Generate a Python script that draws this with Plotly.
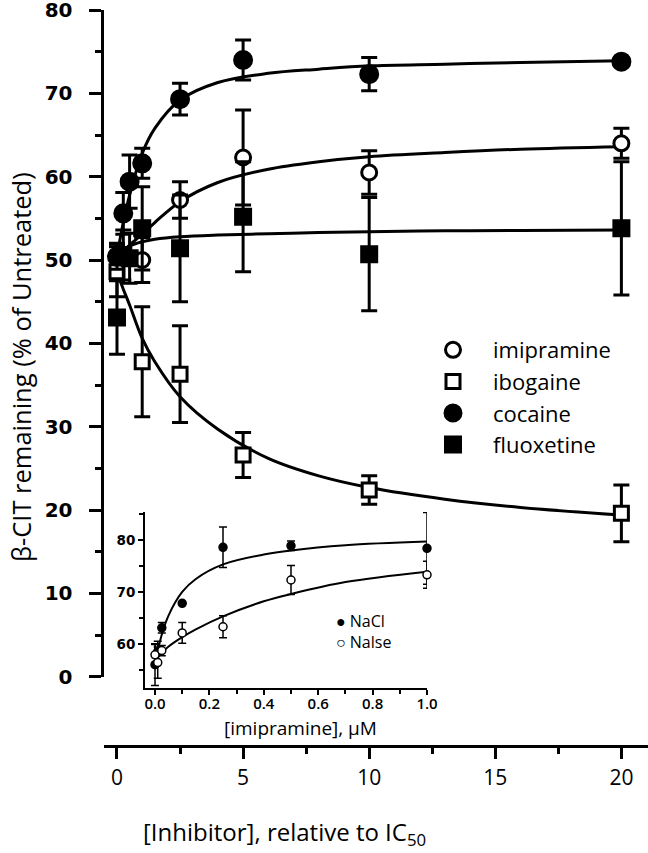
import plotly.graph_objects as go

W, H = 648, 853

# ---- main panel: measured points, x = [Inhibitor] relative to IC50 ----
conc = [0, 0.25, 0.5, 1, 2.5, 5, 10, 20]
imipramine = [50.5, None, None, 50.0, 57.2, 62.3, 60.5, 64.0]
imipramine_err = [1.5, 0, 0, 2.7, 2.2, 5.7, 2.6, 1.8]
ibogaine = [48.6, None, None, 37.8, 36.3, 26.6, 22.4, 19.6]
ibogaine_err = [3.0, 0, 0, 6.6, 5.8, 2.7, 1.7, 3.4]
cocaine = [50.4, 55.6, 59.4, 61.6, 69.3, 74.0, 72.3, 73.8]
cocaine_err = [1.5, 2.5, 3.2, 1.8, 1.9, 2.4, 2.0, 0.5]
fluoxetine = [43.1, 50.6, 50.2, 53.8, 51.4, 55.2, 50.7, 53.8]
fluoxetine_err = [4.4, 3.0, 3.0, 5.0, 6.4, 6.6, 6.8, 8.0]

# fitted curves
fit_x = [0, 0.25, 0.5, 1, 1.5, 2.5, 4, 6, 8, 10, 13, 16, 20]
imipramine_fit = [50.2, 51.0, 51.8, 53.1, 54.5, 57.0, 59.3, 60.9, 61.8, 62.4, 62.9, 63.3, 63.6]
ibogaine_fit = [48.5, 46.5, 44.6, 40.6, 37.8, 33.6, 29.7, 26.2, 24.1, 22.7, 21.3, 20.3, 19.4]
cocaine_fit = [50.5, 54.5, 57.8, 62.8, 65.8, 69.2, 71.3, 72.4, 72.9, 73.3, 73.5, 73.7, 73.9]
fluoxetine_fit = [50.3, 51.2, 51.7, 52.2, 52.5, 52.8, 53.0, 53.15, 53.3, 53.4, 53.5, 53.55, 53.6]

# ---- inset: [imipramine], uM ----
imi_um = [0, 0.01, 0.025, 0.1, 0.25, 0.5, 1.0]
nacl = [56.0, 58.5, 63.1, 67.8, 78.6, 78.9, 78.4]
nacl_err = [4.0, 2.0, 1.0, 0.0, 3.9, 0.9, 6.9]
nalse = [57.9, 56.4, 58.7, 62.1, 63.3, 72.3, 73.3]
nalse_err = [2.0, 3.0, 1.0, 2.0, 2.1, 2.8, 2.6]

inset_fit_x = [0, 0.01, 0.025, 0.05, 0.1, 0.15, 0.25, 0.4, 0.5, 0.7, 1.0]
nacl_fit = [55.5, 58.5, 61.8, 65.5, 70.0, 72.5, 75.3, 77.2, 78.0, 79.0, 79.7]
nalse_fit = [56.5, 57.3, 58.3, 59.5, 61.3, 62.8, 65.3, 68.2, 69.6, 71.9, 73.9]


def px(x):
    return x / W


def py(y):
    return 1 - y / H


fig = go.Figure()

for ys in [imipramine_fit, ibogaine_fit, cocaine_fit, fluoxetine_fit]:
    fig.add_trace(go.Scatter(x=fit_x, y=ys, mode="lines", line=dict(color="black", width=3, shape="spline"),
                             showlegend=False, hoverinfo="skip"))

series = [
    ("imipramine", imipramine, imipramine_err, "circle", "white", 15),
    ("ibogaine", ibogaine, ibogaine_err, "square", "white", 14),
    ("cocaine", cocaine, cocaine_err, "circle", "black", 17),
    ("fluoxetine", fluoxetine, fluoxetine_err, "square", "black", 15),
]
for name, ys, err, sym, fill, size in series:
    fig.add_trace(go.Scatter(
        x=conc, y=ys, mode="markers", name=name, legendgroup=name, cliponaxis=False,
        error_y=dict(type="data", array=err, color="black", thickness=3, width=8),
        marker=dict(symbol=sym, size=size, color=fill, line=dict(color="black", width=3)),
    ))

# inset
for ys in [nacl_fit, nalse_fit]:
    fig.add_trace(go.Scatter(x=inset_fit_x, y=ys, xaxis="x2", yaxis="y2", mode="lines",
                             line=dict(color="black", width=2, shape="spline"),
                             showlegend=False, hoverinfo="skip"))
for ys, err, fill in [(nacl, nacl_err, "black"), (nalse, nalse_err, "white")]:
    fig.add_trace(go.Scatter(
        x=imi_um, y=ys, xaxis="x2", yaxis="y2", mode="markers", showlegend=False, cliponaxis=False,
        error_y=dict(type="data", array=err, color="black", thickness=1.5, width=4),
        marker=dict(symbol="circle", size=8, color=fill, line=dict(color="black", width=1.5)),
    ))

axis_common = dict(showline=True, linecolor="black", showgrid=False, zeroline=False,
                   ticks="outside", tickcolor="black", automargin=False, ticklabeloverflow="allow")

fig.update_layout(
    width=W, height=H,
    margin=dict(l=0, r=0, t=0, b=0),
    paper_bgcolor="white", plot_bgcolor="rgba(0,0,0,0)",
    font=dict(family="Open Sans", color="black"),
    showlegend=True,
    legend=dict(x=px(413), y=py(329), xanchor="left", yanchor="top", bgcolor="rgba(0,0,0,0)",
                font=dict(size=22, family="Open Sans"), traceorder="grouped", tracegroupgap=0,
                itemwidth=70),
    xaxis=dict(domain=[px(103.5), 1], range=[-0.535, 21.055], anchor="free", position=py(746),
               linewidth=3, ticklen=11, tickwidth=2.5, tick0=0, dtick=5,
               minor=dict(dtick=2.5, ticks="outside", ticklen=6, tickwidth=2.5, tickcolor="black"),
               tickfont=dict(size=21, family="Open Sans"), ticklabelstandoff=1, **axis_common),
    yaxis=dict(domain=[py(676.7), py(10)], range=[0, 80], anchor="x",
               linewidth=3, ticklen=12, tickwidth=2.5, tick0=0, dtick=10,
               minor=dict(dtick=5, ticks="outside", ticklen=6, tickwidth=2.5, tickcolor="black"),
               tickfont=dict(size=20, family="DejaVu Sans", weight="bold"), ticklabelstandoff=12,
               **axis_common),
    xaxis2=dict(domain=[px(145), px(427)], range=[-0.0368, 1.0], anchor="y2",
                linewidth=2, ticklen=5, tickwidth=1.5, tick0=0, dtick=0.2, tickformat=".1f",
                minor=dict(dtick=0.1, ticks="outside", ticklen=4, tickwidth=1.5, tickcolor="black"),
                tickfont=dict(size=15, family="Open Sans", weight=600), ticklabelstandoff=-4,
                **axis_common),
    yaxis2=dict(domain=[py(688), py(512)], range=[51.5, 85.4], anchor="x2",
                linewidth=2, ticklen=5, tickwidth=1.5, tick0=0, dtick=10,
                minor=dict(dtick=5, ticks="outside", ticklen=4, tickwidth=1.5, tickcolor="black"),
                tickfont=dict(size=13.5, family="DejaVu Sans", weight="bold"), ticklabelstandoff=0,
                **axis_common),
)

fig.add_annotation(text="β-CIT remaining (% of Untreated)", textangle=-90, xref="paper", yref="paper",
                   x=px(21), y=py(367), xanchor="center", yanchor="middle", showarrow=False,
                   font=dict(size=25.5, family="Open Sans"))
fig.add_annotation(text="[Inhibitor], relative to IC<sub>50</sub>", xref="paper", yref="paper",
                   x=px(284), y=py(833), xanchor="center", yanchor="middle", showarrow=False,
                   font=dict(size=24, family="Open Sans"))
fig.add_annotation(text="[imipramine], μM", xref="paper", yref="paper",
                   x=px(300), y=py(728), xanchor="center", yanchor="middle", showarrow=False,
                   font=dict(size=19, family="Open Sans"))
fig.add_annotation(text="● NaCl<br>○ Nalse", xref="paper", yref="paper", x=px(334), y=py(631),
                   xanchor="left", yanchor="middle", align="left", showarrow=False,
                   font=dict(size=16, family="Open Sans"))

# drop the browser's default 8px body margin so the figure sits at the page origin
fig.write_html("out.html", config={"displayModeBar": False},
               post_script="document.body.style.margin = '0';")
